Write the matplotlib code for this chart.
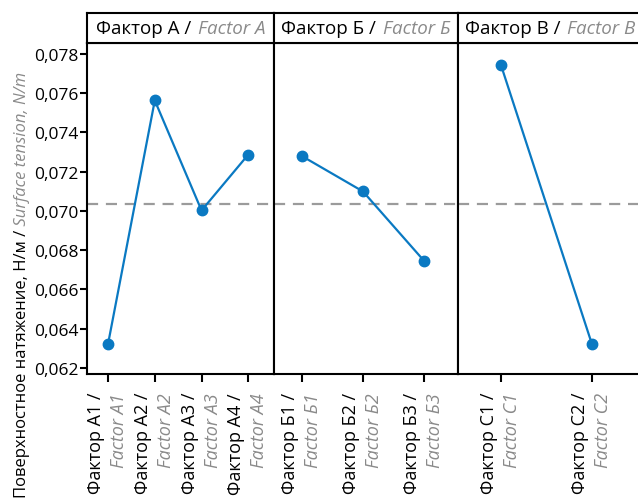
import matplotlib as mpl
mpl.use('Agg')
import matplotlib.pyplot as plt
import matplotlib.transforms as mtransforms
from matplotlib.offsetbox import TextArea, HPacker, AnchoredOffsetbox

# main effects of each factor on surface tension
factor_ru = ['Фактор А', 'Фактор Б', 'Фактор В']
factor_en = ['Factor A', 'Factor Б', 'Factor B']
levels_ru = [['Фактор А1 /', 'Фактор А2 /', 'Фактор А3 /', 'Фактор А4 /'],
             ['Фактор Б1 /', 'Фактор Б2 /', 'Фактор Б3 /'],
             ['Фактор С1 /', 'Фактор С2 /']]
levels_en = [['Factor A1', 'Factor A2', 'Factor A3', 'Factor A4'],
             ['Factor Б1', 'Factor Б2', 'Factor Б3'],
             ['Factor C1', 'Factor C2']]
means = [[0.06321, 0.07563, 0.07002, 0.07287],
         [0.07279, 0.07099, 0.06746],
         [0.07746, 0.06321]]
grand_mean = 0.07036
yticks = [0.062, 0.064, 0.066, 0.068, 0.070, 0.072, 0.074, 0.076, 0.078]

BLUE = '#0a79c2'
GREY = '#8a8a8a'
FONT = 'Open Sans'

plt.rcParams['font.family'] = [FONT, 'DejaVu Sans']

W, H = 638, 502
fig = plt.figure(figsize=(W / 100, H / 100), dpi=100)

edges = [87, 274, 458, 642]
pad_lo = [0.45, 0.46, 0.47]
pad_hi = [0.55, 0.56, 0.55]
y_top, y_bot, y_head = 44, 375, 14

for i in range(3):
    x0, x1 = edges[i], edges[i + 1]
    ax = fig.add_axes([x0 / W, 1 - y_bot / H, (x1 - x0) / W, (y_bot - y_top) / H])
    hx = fig.add_axes([x0 / W, 1 - y_top / H, (x1 - x0) / W, (y_top - y_head) / H])

    xs = list(range(len(means[i])))
    ax.plot(xs, means[i], color=BLUE, lw=1.6, marker='o', ms=7.5, zorder=3)
    ax.axhline(grand_mean, color='#9b9b9b', lw=1.6, ls=(0, (5, 3.5)), zorder=2)
    ax.set_xlim(-pad_lo[i], len(xs) - 1 + pad_hi[i])
    ax.set_ylim(0.06168, 0.07856)

    for sp in ax.spines.values():
        sp.set_linewidth(1.5)
    ax.set_xticks(xs)
    ax.set_xticklabels([])
    ax.tick_params(axis='x', direction='out', length=6, width=1.5)
    if i == 0:
        ax.set_yticks(yticks)
        ax.set_yticklabels([f'{v:.3f}'.replace('.', ',') for v in yticks], fontsize=12.5)
        ax.tick_params(axis='y', direction='out', length=5, width=1.5, pad=1)
    else:
        ax.set_yticks([])

    # two-line rotated tick labels: russian in black, english in grey italics
    base = ax.get_xaxis_transform()
    for x, ru, en in zip(xs, levels_ru[i], levels_en[i]):
        t_ru = mtransforms.offset_copy(base, fig, x=-12, y=-18, units='dots')
        t_en = mtransforms.offset_copy(base, fig, x=11, y=-18, units='dots')
        ax.text(x, 0, ru, transform=t_ru, rotation=90, ha='center', va='top',
                fontsize=13, color='black')
        ax.text(x, 0, en, transform=t_en, rotation=90, ha='center', va='top',
                fontsize=13, color=GREY, style='italic')

    # header strip
    hx.set_xticks([])
    hx.set_yticks([])
    for sp in hx.spines.values():
        sp.set_linewidth(1.5)
    box = HPacker(children=[
        TextArea(factor_ru[i] + ' /', textprops=dict(color='black', fontsize=13.5, family=FONT)),
        TextArea(factor_en[i], textprops=dict(color=GREY, fontsize=13.5, family=FONT, style='italic')),
    ], align='baseline', pad=0, sep=5)
    hx.add_artist(AnchoredOffsetbox(loc='center', child=box, frameon=False, pad=0,
                                    borderpad=0))

# y-axis label in two colours
t1 = fig.text(22 / W, 1 - 498 / H, 'Поверхностное натяжение, Н/м /', rotation=90,
              ha='center', va='bottom', fontsize=12, color='black')
ax.annotate(' Surface tension, N/m', xy=(0.5, 1), xycoords=t1, rotation=90,
            ha='center', va='bottom', fontsize=12, color=GREY,
            style='italic', annotation_clip=False)

fig.savefig('out.png', dpi=100)
